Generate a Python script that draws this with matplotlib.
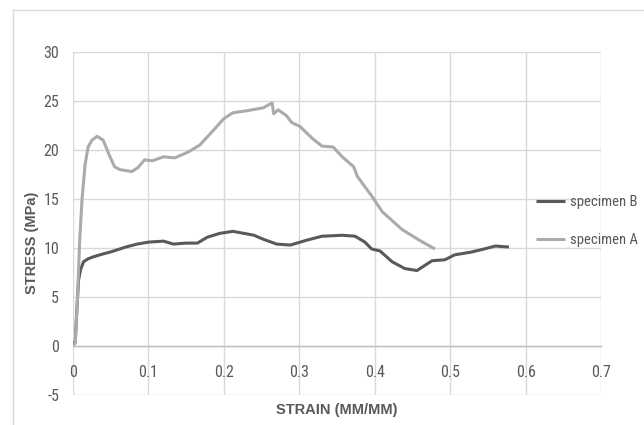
import matplotlib
matplotlib.use("Agg")
import matplotlib.pyplot as plt
from matplotlib.lines import Line2D
from matplotlib import font_manager

strain_a = [0.0, 0.003, 0.006, 0.009, 0.012, 0.016, 0.020, 0.025, 0.032, 0.040, 0.048, 0.055, 0.062,
            0.070, 0.078, 0.086, 0.095, 0.105, 0.120, 0.135, 0.153, 0.168, 0.186, 0.200, 0.212,
            0.230, 0.252, 0.264, 0.266, 0.272, 0.283, 0.290, 0.301, 0.317, 0.330, 0.345, 0.357,
            0.372, 0.377, 0.397, 0.410, 0.436, 0.459, 0.480]
stress_a = [0.0, 0.3, 5.0, 11.0, 15.0, 18.5, 20.3, 21.0, 21.4, 21.0, 19.5, 18.3, 18.0,
            17.9, 17.8, 18.2, 19.0, 18.9, 19.3, 19.2, 19.8, 20.5, 22.0, 23.2, 23.8,
            24.0, 24.3, 24.8, 23.7, 24.1, 23.5, 22.8, 22.4, 21.2, 20.4, 20.3, 19.3,
            18.3, 17.3, 15.2, 13.7, 11.9, 10.8, 9.9]

strain_b = [0.0, 0.003, 0.005, 0.0073, 0.010, 0.014, 0.020, 0.027, 0.040, 0.050, 0.070, 0.085,
            0.100, 0.120, 0.133, 0.150, 0.165, 0.178, 0.195, 0.212, 0.240, 0.252, 0.270,
            0.288, 0.310, 0.330, 0.357, 0.374, 0.387, 0.396, 0.407, 0.423, 0.440, 0.456,
            0.476, 0.493, 0.506, 0.529, 0.545, 0.560, 0.578]
stress_b = [0.0, 0.5, 3.5, 6.7, 7.8, 8.6, 8.9, 9.1, 9.4, 9.6, 10.1, 10.4,
            10.6, 10.7, 10.4, 10.5, 10.5, 11.1, 11.5, 11.7, 11.3, 10.9, 10.4,
            10.3, 10.8, 11.2, 11.3, 11.2, 10.6, 9.9, 9.7, 8.6, 7.9, 7.7,
            8.7, 8.8, 9.3, 9.6, 9.9, 10.2, 10.1]

x_ticks = [0, 0.1, 0.2, 0.3, 0.4, 0.5, 0.6, 0.7]
x_tick_labels = ["0", "0.1", "0.2", "0.3", "0.4", "0.5", "0.6", "0.7"]
y_ticks = [-5, 0, 5, 10, 15, 20, 25, 30]
y_tick_labels = ["-5", "0", "5", "10", "15", "20", "25", "30"]

available = {f.name for f in font_manager.fontManager.ttflist}
NARROW = None
for cand in ["Liberation Sans Narrow", "DejaVu Sans Condensed", "Roboto Condensed",
             "Open Sans Condensed", "Noto Sans Condensed", "Liberation Sans"]:
    if cand in available:
        NARROW = cand
        break
FONT = [NARROW or "DejaVu Sans", "DejaVu Sans"]
BOLD = ["Liberation Sans", "DejaVu Sans"]
TXT = "#595959"

fig = plt.figure(figsize=(6.44, 4.25), dpi=100)
fig.patch.set_facecolor("white")

# outer chart frame
fig.add_artist(Line2D([13 / 644, 13 / 644], [0, 1 - 10 / 425], transform=fig.transFigure,
                      color="#d9d9d9", lw=1.0))
fig.add_artist(Line2D([13 / 644, 1], [1 - 10 / 425, 1 - 10 / 425], transform=fig.transFigure,
                      color="#d9d9d9", lw=1.0))

ax = fig.add_axes([73 / 644, 1 - 395 / 425, (601 - 73) / 644, (395 - 52) / 425])
ax.set_xlim(0, 0.7)
ax.set_ylim(-5, 30)
ax.set_xticks(x_ticks)
ax.set_xticklabels(x_tick_labels)
ax.set_yticks(y_ticks)
ax.set_yticklabels(y_tick_labels)
ax.grid(True, color="#d9d9d9", lw=1.0)
ax.set_axisbelow(True)
for s in ["top", "right", "left"]:
    ax.spines[s].set_visible(False)
ax.spines["bottom"].set_position(("data", 0))
ax.spines["bottom"].set_color("#bfbfbf")
ax.spines["bottom"].set_linewidth(1.0)
ax.tick_params(length=0)
ax.tick_params(axis="x", pad=14)
ax.tick_params(axis="y", pad=10)
for lab in ax.get_xticklabels() + ax.get_yticklabels():
    lab.set_family(FONT)
    lab.set_fontsize(11.5)
    lab.set_color(TXT)

ax.plot(strain_b, stress_b, color="#595959", lw=2.2, label="specimen B", solid_capstyle="butt")
ax.plot(strain_a, stress_a, color="#ababab", lw=2.2, label="specimen A", solid_capstyle="butt")

ax.set_xlabel("STRAIN (MM/MM)", family=BOLD, fontsize=10.5, fontweight="bold", color=TXT)
ax.xaxis.set_label_coords(0.5, -0.044)
ax.xaxis.label.set_va("center")
fig.text(32 / 644, 1 - 243 / 425, "STRESS (MPa)", rotation=90, ha="center", va="center",
         family=BOLD, fontsize=10.5, fontweight="bold", color=TXT)

leg = ax.legend(loc="center left", bbox_to_anchor=(0.877, 0.507), frameon=False,
                prop={"family": FONT, "size": 10.5}, handlelength=2.0, handletextpad=0.35,
                labelspacing=1.6, borderaxespad=0, borderpad=0)
for t in leg.get_texts():
    t.set_color(TXT)

fig.savefig("out.png", dpi=100, facecolor="white")
